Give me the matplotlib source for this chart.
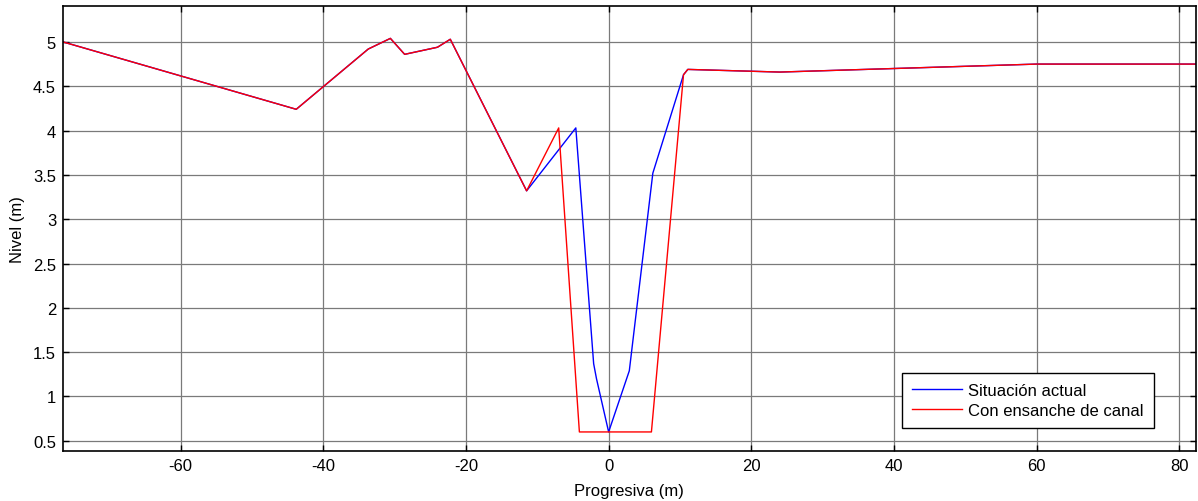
import matplotlib
matplotlib.use("Agg")
import matplotlib.pyplot as plt

plt.rcParams['font.family'] = ['Liberation Sans', 'DejaVu Sans']
plt.rcParams['axes.unicode_minus'] = False

# perfil actual del cauce
x_actual = [-76.5, -43.8, -33.7, -30.6, -28.6, -24.0, -22.2, -11.5, -4.6,
            -2.1, -1.7, 0.0, 2.9, 6.2, 10.5, 11.1, 24.0, 60.0, 82.3]
y_actual = [5.00, 4.24, 4.92, 5.04, 4.86, 4.94, 5.03, 3.32, 4.03,
            1.37, 1.20, 0.60, 1.29, 3.52, 4.63, 4.69, 4.66, 4.75, 4.75]

# perfil con ensanche de canal
x_ensanche = [-76.5, -43.8, -33.7, -30.6, -28.6, -24.0, -22.2, -11.5, -7.0,
              -4.1, 6.0, 10.5, 11.1, 24.0, 60.0, 82.3]
y_ensanche = [5.00, 4.24, 4.92, 5.04, 4.86, 4.94, 5.03, 3.32, 4.03,
              0.60, 0.60, 4.63, 4.69, 4.66, 4.75, 4.75]

x_ticks = [-60, -40, -20, 0, 20, 40, 60, 80]
y_ticks = [0.5, 1, 1.5, 2, 2.5, 3, 3.5, 4, 4.5, 5]

fig = plt.figure(figsize=(11.98, 5.02), dpi=100)
ax = fig.add_axes([0.0526, 0.0996, 0.9454, 0.8864])

ax.plot(x_actual, y_actual, color='blue', lw=1.0, label='Situación actual')
ax.plot(x_ensanche, y_ensanche, color='red', lw=1.0, label='Con ensanche de canal')

ax.set_xlim(-76.5, 82.3)
ax.set_ylim(0.385, 5.405)
ax.set_xticks(x_ticks)
ax.set_yticks(y_ticks)
ax.set_yticklabels(['0.5', '1', '1.5', '2', '2.5', '3', '3.5', '4', '4.5', '5'])

ax.grid(True, color='#7a7a7a', lw=0.9)
ax.set_axisbelow(True)
ax.tick_params(direction='in', length=4, width=1, top=True, right=True,
               labelsize=12, colors='black', pad=5)
for s in ax.spines.values():
    s.set_linewidth(1.2)

ax.set_xlabel('Progresiva (m)', fontsize=12, labelpad=7)
ax.set_ylabel('Nivel (m)', fontsize=12, labelpad=6)

leg = ax.legend(loc='lower right', bbox_to_anchor=(0.963, 0.052), fontsize=12,
                fancybox=False, framealpha=1, edgecolor='black',
                handlelength=3.0, handletextpad=0.4, borderpad=0.6,
                labelspacing=0.3, borderaxespad=0)
leg.get_frame().set_linewidth(1.0)

fig.savefig('out.png', dpi=100)
